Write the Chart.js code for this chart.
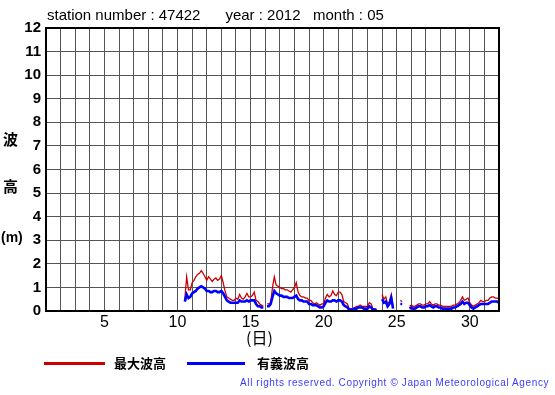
<!DOCTYPE html>
<html>
<head>
<meta charset="utf-8">
<script src="https://cdn.jsdelivr.net/npm/chart.js@4/dist/chart.umd.min.js"></script>
<style>
  body { margin: 0; background: #fff; }
  #wrap { position: relative; width: 555px; height: 395px; font-family: "Liberation Sans", Arial, sans-serif; }
  canvas { position: absolute; left: 0; top: 0; }
  .t { position: absolute; white-space: pre; color: #000; }
  .jp { font-family: "Noto Sans CJK JP", sans-serif; font-weight: bold; }
</style>
</head>
<body>
<div id="wrap">
  <canvas id="chart" width="555" height="395"></canvas>
  <div class="t" style="left:47px;top:6px;font-size:15px;">station number : 47422      year : 2012   month : 05</div>
  <div class="t jp" style="left:3px;top:128px;font-size:15px;">波</div>
  <div class="t jp" style="left:3px;top:175px;font-size:15px;">高</div>
  <div class="t" style="left:1px;top:229px;font-size:14px;font-weight:bold;">(m)</div>
  <div class="t jp" style="left:246px;top:325px;font-size:16px;font-weight:normal;">(日)</div>
  <div style="position:absolute;left:44px;top:362px;width:61px;height:3px;background:#cc0000;"></div>
  <div class="t jp" style="left:114px;top:353px;font-size:13px;">最大波高</div>
  <div style="position:absolute;left:187px;top:362px;width:58px;height:3px;background:#0000ff;"></div>
  <div class="t jp" style="left:257px;top:353px;font-size:13px;">有義波高</div>
  <div class="t" style="left:240px;top:377px;font-size:10px;letter-spacing:0.62px;color:#3b3bff;">All rights reserved. Copyright © Japan Meteorological Agency</div>
</div>
<script>
// 3-hourly readings, first one at May 10 12:00 (day 10.5)
const startDay = 10.5;
const stepDays = 0.125;

const maxWave = [
  0.5, 1.45, 0.9, 0.9,
  1.2, 1.3, 1.45, 1.55, 1.6, 1.71, 1.6, 1.45,
  1.3, 1.45, 1.35, 1.25, 1.35, 1.4, 1.3, 1.35,
  1.5, 1.2, 0.85, 0.6, 0.55, 0.5, 0.45, 0.45,
  0.55, 0.5, 0.7, 0.55, 0.5, 0.6, 0.75, 0.6,
  0.6, 0.65, 0.8, 0.45, 0.4, 0.3, 0.25, 0.2,
  null, 0.3, 0.3, 0.35, 1.0, 1.45, 1.1, 1.05,
  1.0, 0.95, 0.95, 0.9, 0.9, 0.85, 0.8, 0.9,
  1.0, 1.2, 0.8, 0.65, 0.6, 0.6, 0.55, 0.55,
  0.45, 0.45, 0.35, 0.3, 0.35, 0.3, 0.25, 0.3,
  0.3, 0.55, 0.7, 0.6, 0.65, 0.85, 0.7, 0.65,
  0.8, 0.8, 0.7, 0.4, 0.35, 0.3, 0.1, 0.1,
  0.1, 0.15, 0.2, 0.2, 0.25, 0.2, 0.2, 0.2,
  0.2, 0.35, 0.3, 0.1, 0.1, 0.05, null, null,
  0.7, 0.5, 0.6, 0.3, 0.4, 0.7, 0.2, null,
  null, null, 0.45, 0.4, null, null, null, 0.2,
  0.25, 0.2, 0.2, 0.25, 0.3, 0.3, 0.25, 0.25,
  0.3, 0.3, 0.4, 0.3, 0.25, 0.3, 0.3, 0.25,
  0.25, 0.2, 0.2, 0.2, 0.2, 0.2, 0.2, 0.25,
  0.25, 0.3, 0.35, 0.45, 0.6, 0.45, 0.5, 0.55,
  0.35, 0.25, 0.2, 0.25, 0.3, 0.35, 0.45, 0.4,
  0.4, 0.45, 0.45, 0.55, 0.6, 0.6, 0.55, 0.55,
  0.5
];

const sigWave = [
  0.4, 0.7, 0.55, 0.6,
  0.75, 0.8, 0.85, 0.95, 1.0, 1.05, 1.0, 0.95,
  0.85, 0.85, 0.8, 0.8, 0.85, 0.85, 0.8, 0.8,
  0.85, 0.75, 0.6, 0.45, 0.4, 0.35, 0.35, 0.35,
  0.35, 0.35, 0.45, 0.4, 0.4, 0.4, 0.45, 0.4,
  0.45, 0.45, 0.45, 0.3, 0.2, 0.2, 0.15, 0.15,
  null, 0.2, 0.2, 0.3, 0.6, 0.85, 0.75, 0.7,
  0.65, 0.65, 0.6, 0.6, 0.6, 0.55, 0.55, 0.55,
  0.6, 0.65, 0.5, 0.45, 0.45, 0.4, 0.4, 0.4,
  0.3, 0.3, 0.25, 0.25, 0.25, 0.2, 0.15, 0.15,
  0.2, 0.35, 0.45, 0.4, 0.4, 0.45, 0.45, 0.4,
  0.45, 0.45, 0.4, 0.25, 0.2, 0.15, 0.05, 0.05,
  0.05, 0.1, 0.1, 0.15, 0.15, 0.15, 0.1, 0.1,
  0.1, 0.2, 0.15, 0.05, 0.05, 0.05, null, null,
  0.5, 0.35, 0.4, 0.2, 0.3, 0.55, 0.1, null,
  null, null, 0.3, 0.3, null, null, null, 0.1,
  0.15, 0.1, 0.1, 0.15, 0.2, 0.2, 0.15, 0.15,
  0.2, 0.2, 0.25, 0.2, 0.15, 0.2, 0.2, 0.15,
  0.15, 0.1, 0.1, 0.1, 0.1, 0.1, 0.1, 0.15,
  0.15, 0.2, 0.25, 0.3, 0.4, 0.3, 0.35, 0.35,
  0.25, 0.15, 0.1, 0.15, 0.2, 0.25, 0.3, 0.3,
  0.3, 0.3, 0.3, 0.35, 0.4, 0.4, 0.4, 0.4,
  0.35
];

const dayMin = 1;
const dayMax = 32;
const dayLabels = [5, 10, 15, 20, 25, 30];

function toPoints(arr) {
  return arr.map((v, i) => ({ x: startDay + i * stepDays, y: v }));
}

// black frame around the plot
const frame = {
  id: "frame",
  afterDraw(chart) {
    const a = chart.chartArea;
    const c = chart.ctx;
    c.save();
    c.strokeStyle = "#000";
    c.lineWidth = 2;
    c.strokeRect(a.left, a.top, a.right - a.left, a.bottom - a.top);
    c.restore();
  },
};

const ctx = document.getElementById("chart").getContext("2d");
new Chart(ctx, {
  type: "line",
  data: {
    datasets: [
      {
        label: "最大波高",
        data: toPoints(maxWave),
        borderColor: "#cc0000",
        borderWidth: 1.3,
        pointRadius: 0,
        spanGaps: false,
        order: 2,
      },
      {
        label: "有義波高",
        data: toPoints(sigWave),
        borderColor: "#0000ff",
        borderWidth: 2.6,
        pointRadius: 0,
        spanGaps: false,
        order: 1,
      },
    ],
  },
  options: {
    responsive: false,
    animation: false,
    layout: { padding: { left: 0, right: 56, top: 28, bottom: 54 } },
    plugins: { legend: { display: false }, tooltip: { enabled: false } },
    scales: {
      x: {
        type: "linear",
        min: dayMin,
        max: dayMax,
        afterBuildTicks: (scale) => {
          const t = [];
          for (let d = dayMin; d <= dayMax; d++) t.push({ value: d });
          scale.ticks = t;
        },
        afterFit: (scale) => { scale.height = 30; },
        grid: { color: "#555", lineWidth: 1, drawTicks: false },
        border: { color: "#000", width: 2 },
        ticks: {
          autoSkip: false,
          maxRotation: 0,
          padding: 2,
          color: "#000",
          font: { family: "Liberation Sans", size: 16 },
          callback: (v) => (dayLabels.includes(v) ? String(v) : ""),
        },
      },
      y: {
        min: 0,
        max: 12,
        afterFit: (scale) => { scale.width = 46; },
        grid: { color: "#555", lineWidth: 1, drawTicks: false },
        border: { color: "#000", width: 2 },
        ticks: {
          stepSize: 1,
          padding: 5,
          color: "#000",
          font: { family: "Liberation Sans", size: 15, weight: "bold" },
        },
      },
    },
  },
  plugins: [frame],
});
</script>
</body>
</html>
